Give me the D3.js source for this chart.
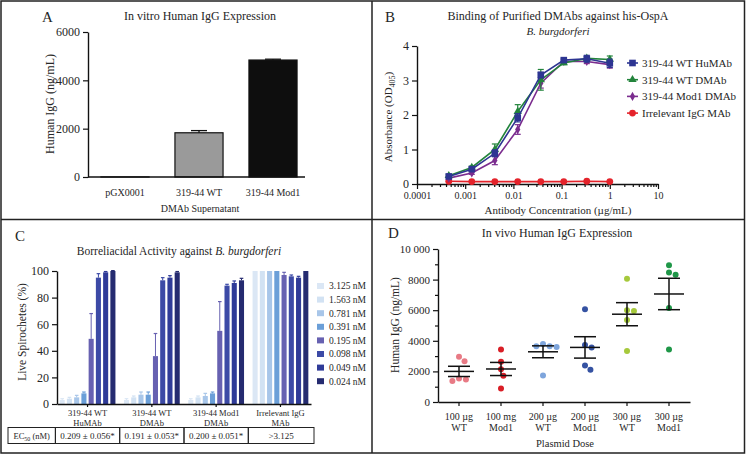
<!DOCTYPE html>
<html>
<head>
<meta charset="utf-8">
<script src="https://cdn.jsdelivr.net/npm/d3@7"></script>
<style>
  body { margin: 0; background: #fff; }
  svg { font-family: "Liberation Serif", "DejaVu Serif", serif; }
</style>
</head>
<body>
<div id="fig"></div>
<script>
// ---- A: in vitro expression
const aCats = ["pGX0001", "319-44 WT", "319-44 Mod1"];
const aVals = [4, 1830, 4840];
const aErr = [0, 90, 35];
const aTicks = [0, 2000, 4000, 6000];

// ---- B: binding curves
const bConc = [0.000457, 0.00137, 0.00412, 0.0123, 0.037, 0.111, 0.333, 1];
const bNames = ["319-44 WT HuMAb", "319-44 WT DMAb", "319-44 Mod1 DMAb", "Irrelevant IgG MAb"];
const bHuMAb = [0.22, 0.43, 0.89, 1.92, 3.16, 3.59, 3.63, 3.50];
const bHuMAbErr = [0.04, 0.05, 0.10, 0.12, 0.08, 0.04, 0.10, 0.12];
const bWtDMAb = [0.24, 0.48, 1.00, 2.10, 3.02, 3.51, 3.64, 3.61];
const bWtDMAbErr = [0.03, 0.04, 0.16, 0.20, 0.30, 0.05, 0.05, 0.10];
const bMod1DMAb = [0.17, 0.32, 0.68, 1.58, 2.92, 3.55, 3.55, 3.46];
const bMod1DMAbErr = [0.03, 0.04, 0.12, 0.14, 0.14, 0.05, 0.06, 0.10];
const bIrrelevant = [0.08, 0.07, 0.07, 0.07, 0.07, 0.07, 0.08, 0.07];
const bIrrelevantErr = [0.01, 0.01, 0.01, 0.01, 0.01, 0.01, 0.01, 0.01];
const bTicksX = [0.0001, 0.001, 0.01, 0.1, 1, 10];
const bTicksY = [0, 1, 2, 3, 4];

// ---- C: borreliacidal activity
const cGroups = [["319-44 WT", "HuMAb"], ["319-44 WT", "DMAb"], ["319-44 Mod1", "DMAb"], ["Irrelevant IgG", "MAb"]];
const cDoses = ["3.125 nM", "1.563 nM", "0.781 nM", "0.391 nM", "0.195 nM", "0.098 nM", "0.049 nM", "0.024 nM"];
const cHuMAb = [3, 4, 5, 8, 49, 95, 99, 100];
const cHuMAbErr = [1, 1, 1.5, 1, 19, 3, 0.6, 0.3];
const cWtDMAb = [3, 5, 7, 7, 36, 93, 95, 99];
const cWtDMAbErr = [1, 1, 2, 2, 17, 2, 1.5, 0.6];
const cMod1DMAb = [3, 5, 6, 8, 55, 89, 91, 93];
const cMod1DMAbErr = [1, 1, 2, 1, 22, 1, 1.5, 1.5];
const cIrrelevant = [100, 100, 100, 100, 97, 96, 95, 100];
const cIrrelevantErr = [0, 0, 0, 0, 2, 1, 1, 0];
const cEC50 = ["0.209 ± 0.056*", "0.191 ± 0.053*", "0.200 ± 0.051*", ">3.125"];
const cTicks = [0, 20, 40, 60, 80, 100];

// ---- D: in vivo expression
const dCats = [["100 µg", "WT"], ["100 mg", "Mod1"], ["200 µg", "WT"], ["200 µg", "Mod1"], ["300 µg", "WT"], ["300 µg", "Mod1"]];
const d100WT = [2950, 2670, 1530, 1380, 1470];
const d100Mod1 = [3430, 2630, 2140, 1710, 880];
const d200WT = [3790, 3650, 3650, 3590, 1730];
const d200Mod1 = [6060, 3720, 3570, 2390, 2100];
const d300WT = [8050, 5950, 6000, 5360, 3330];
const d300Mod1 = [8930, 8320, 8470, 6150, 3430];
const dTicks = [0, 2000, 4000, 6000, 8000, 10000];

const INK = "#262626";
const FONT = '"Liberation Serif", "DejaVu Serif", serif';

const svg = d3.select("#fig").append("svg")
    .attr("width", 746)
    .attr("height", 455)
    .attr("font-family", FONT);

svg.append("rect").attr("width", 746).attr("height", 455).attr("fill", "#fff");

function addText(x, y, str, size, anchor) {
  return svg.append("text")
      .attr("x", x).attr("y", y)
      .attr("font-family", FONT)
      .attr("font-size", size)
      .attr("text-anchor", anchor || "middle")
      .attr("fill", INK)
      .text(str);
}

function addVText(x, y, str, size) {
  return svg.append("text")
      .attr("transform", "translate(" + x + "," + y + ") rotate(-90)")
      .attr("font-family", FONT)
      .attr("font-size", size)
      .attr("text-anchor", "middle")
      .attr("fill", INK)
      .text(str);
}

function styleAxis(g, size) {
  g.attr("font-family", FONT).attr("font-size", size);
  g.select(".domain").attr("stroke", "#111").attr("stroke-width", 1.4);
  g.selectAll(".tick line").attr("stroke", "#111").attr("stroke-width", 1.2);
  g.selectAll(".tick text").attr("fill", INK);
}

// frame
svg.append("rect")
    .attr("x", 1).attr("y", 1).attr("width", 743.5).attr("height", 452)
    .attr("fill", "none").attr("stroke", "#222").attr("stroke-width", 1.5);
svg.append("line").attr("x1", 1).attr("x2", 745).attr("y1", 219.5).attr("y2", 219.5)
    .attr("stroke", "#222").attr("stroke-width", 1.5);
svg.append("line").attr("x1", 372).attr("x2", 372).attr("y1", 1).attr("y2", 453)
    .attr("stroke", "#222").attr("stroke-width", 1.5);

// ================= A =================
function panelA() {
  const x = d3.scaleBand().domain(aCats).range([88, 310]).paddingInner(0.35).paddingOuter(0.175);
  const y = d3.scaleLinear().domain([0, 6000]).range([177, 32]);

  addText(42, 22, "A", 15, "start");
  addText(200, 20, "In vitro Human IgG Expression", 12);

  const colors = ["#fff", "#9a9a9a", "#0e0e0e"];
  svg.append("g").selectAll("rect")
      .data(aVals)
      .enter().append("rect")
      .attr("x", (d, i) => x(aCats[i]))
      .attr("width", x.bandwidth())
      .attr("y", d => y(d))
      .attr("height", d => y(0) - y(d))
      .attr("fill", (d, i) => colors[i])
      .attr("stroke", "#111")
      .attr("stroke-width", 1.2);

  const err = svg.append("g").attr("stroke", "#111").attr("stroke-width", 1.3);
  aVals.forEach((d, i) => {
    if (!aErr[i]) return;
    const cx = x(aCats[i]) + x.bandwidth() / 2;
    err.append("line").attr("x1", cx).attr("x2", cx).attr("y1", y(d)).attr("y2", y(d + aErr[i]));
    err.append("line").attr("x1", cx - 8).attr("x2", cx + 8).attr("y1", y(d + aErr[i])).attr("y2", y(d + aErr[i]));
  });

  const ya = svg.append("g").attr("transform", "translate(88,0)")
      .call(d3.axisLeft(y).tickValues(aTicks).tickSize(5).tickSizeOuter(0).tickFormat(d3.format("d")));
  styleAxis(ya, 12);

  const xa = svg.append("g").attr("transform", "translate(0,177)")
      .call(d3.axisBottom(x).tickSize(0).tickPadding(12));
  styleAxis(xa, 10);
  xa.select(".domain").attr("d", "M88,0H305");

  addText(200, 211.5, "DMAb Supernatant", 10);
  addVText(54, 104, "Human IgG (ng/mL)", 12);
}

// ================= B =================
function panelB() {
  const x = d3.scaleLog().domain([0.0001, 10]).range([417, 658]);
  const y = d3.scaleLinear().domain([0, 4]).range([184, 46]);

  addText(385, 22, "B", 15, "start");
  addText(558, 20, "Binding of Purified DMAbs against his-OspA", 12);
  addText(558, 35, "B. burgdorferi", 11).attr("font-style", "italic");

  const minor = [];
  for (let e = -4; e < 1; e++) for (let k = 2; k < 10; k++) minor.push(k * Math.pow(10, e));
  const xm = svg.append("g").attr("transform", "translate(0,184)")
      .call(d3.axisBottom(x).tickValues(minor).tickSize(3).tickFormat(""));
  styleAxis(xm, 10);
  xm.select(".domain").remove();

  const xa = svg.append("g").attr("transform", "translate(0,184)")
      .call(d3.axisBottom(x).tickValues(bTicksX).tickSize(5).tickSizeOuter(0).tickFormat(d => String(d)));
  styleAxis(xa, 10);

  const ya = svg.append("g").attr("transform", "translate(417,0)")
      .call(d3.axisLeft(y).tickValues(bTicksY).tickSize(5).tickSizeOuter(0).tickFormat(d3.format("d")));
  styleAxis(ya, 12);

  addText(558, 213.5, "Antibody Concentration (µg/mL)", 11);
  const yl = addVText(392, 117, "Absorbance (OD", 11);
  yl.append("tspan").attr("dy", 3).attr("font-size", 8).text("405");
  yl.append("tspan").attr("dy", -3).text(")");

  const series = [
    { name: bNames[3], vals: bIrrelevant, err: bIrrelevantErr, color: "#e4232b", sym: d3.symbolCircle, size: 36 },
    { name: bNames[2], vals: bMod1DMAb, err: bMod1DMAbErr, color: "#7b2d8f", sym: d3.symbolDiamond, size: 24 },
    { name: bNames[1], vals: bWtDMAb, err: bWtDMAbErr, color: "#23843c", sym: d3.symbolTriangle, size: 30 },
    { name: bNames[0], vals: bHuMAb, err: bHuMAbErr, color: "#2d3592", sym: d3.symbolSquare, size: 44 }
  ];

  const line = d3.line().x((d, i) => x(bConc[i])).y(d => y(d));

  series.forEach(s => {
    const g = svg.append("g");
    g.append("path").attr("d", line(s.vals)).attr("fill", "none")
        .attr("stroke", s.color).attr("stroke-width", 1.6);
    s.vals.forEach((v, i) => {
      const cx = x(bConc[i]);
      const e = s.err[i];
      g.append("line").attr("x1", cx).attr("x2", cx).attr("y1", y(v - e)).attr("y2", y(v + e))
          .attr("stroke", s.color).attr("stroke-width", 1.2);
      [v - e, v + e].forEach(t => g.append("line")
          .attr("x1", cx - 3).attr("x2", cx + 3).attr("y1", y(t)).attr("y2", y(t))
          .attr("stroke", s.color).attr("stroke-width", 1.2));
      g.append("path").attr("d", d3.symbol(s.sym, s.size)())
          .attr("transform", "translate(" + cx + "," + y(v) + ")")
          .attr("fill", s.color);
    });
  });

  // legend
  const legendOrder = series.slice().reverse();
  legendOrder.forEach((s, i) => {
    const ly = 63 + i * 16.7;
    svg.append("line").attr("x1", 627).attr("x2", 638).attr("y1", ly).attr("y2", ly)
        .attr("stroke", s.color).attr("stroke-width", 1.6);
    svg.append("path").attr("d", d3.symbol(s.sym, s.size)())
        .attr("transform", "translate(632.5," + ly + ")").attr("fill", s.color);
    addText(642, ly + 4, s.name, 11, "start");
  });
}

// ================= C =================
function panelC() {
  const groupVals = [cHuMAb, cWtDMAb, cMod1DMAb, cIrrelevant];
  const groupErr = [cHuMAbErr, cWtDMAbErr, cMod1DMAbErr, cIrrelevantErr];
  const colors = ["#dbe7f5", "#d2e2f3", "#a8c6e9", "#6b9fd8", "#6761b1", "#3c4aa6", "#2f3b98", "#252b70"];

  const xg = d3.scaleBand().domain(d3.range(cGroups.length)).range([57, 311])
      .paddingInner(0.11).paddingOuter(0.03);
  const xb = d3.scaleBand().domain(d3.range(cDoses.length)).range([0, xg.bandwidth()])
      .paddingInner(0.3).paddingOuter(0.1);
  const y = d3.scaleLinear().domain([0, 100]).range([404, 271]);

  addText(15, 241, "C", 15, "start");
  const t = addText(179, 255, "Borreliacidal Activity against ", 11.5);
  t.append("tspan").attr("font-style", "italic").text("B. burgdorferi");

  groupVals.forEach((vals, gi) => {
    const g = svg.append("g").attr("transform", "translate(" + xg(gi) + ",0)");
    vals.forEach((v, i) => {
      const bx = xb(i);
      g.append("rect").attr("x", bx).attr("width", xb.bandwidth())
          .attr("y", y(v)).attr("height", y(0) - y(v)).attr("fill", colors[i]);
      const e = groupErr[gi][i];
      if (e > 0) {
        const cx = bx + xb.bandwidth() / 2;
        g.append("line").attr("x1", cx).attr("x2", cx).attr("y1", y(v)).attr("y2", y(v + e))
            .attr("stroke", colors[i]).attr("stroke-width", 1);
        g.append("line").attr("x1", cx - 1.8).attr("x2", cx + 1.8).attr("y1", y(v + e)).attr("y2", y(v + e))
            .attr("stroke", colors[i]).attr("stroke-width", 1.2);
      }
    });
  });

  const ya = svg.append("g").attr("transform", "translate(57,0)")
      .call(d3.axisLeft(y).tickValues(cTicks).tickSize(5).tickSizeOuter(0));
  styleAxis(ya, 12);

  const xa = svg.append("g").attr("transform", "translate(0,404)")
      .call(d3.axisBottom(xg).tickSize(3).tickSizeOuter(0).tickFormat(""));
  styleAxis(xa, 9);

  cGroups.forEach((lab, gi) => {
    const cx = xg(gi) + xg.bandwidth() / 2;
    addText(cx, 415.5, lab[0], 8.5);
    addText(cx, 425.5, lab[1], 8.5);
  });

  addVText(26, 332, "Live Spirochetes (%)", 11.5);

  // legend
  cDoses.forEach((d, i) => {
    const ly = 286 + i * 13.6;
    svg.append("rect").attr("x", 317).attr("y", ly - 3).attr("width", 7).attr("height", 6).attr("fill", colors[i]);
    addText(329, ly + 3.3, d, 9.5, "start");
  });

  // EC50 table
  const tg = svg.append("g").attr("fill", "none").attr("stroke", "#222").attr("stroke-width", 1);
  const half = (xg.step() - xg.bandwidth()) / 2;
  const cells = [[8, xg(0) - half]].concat(cGroups.map((c, gi) => [xg(gi) - half, xg(gi) + xg.bandwidth() + half]));
  cells[cells.length - 1][1] = 314;
  cells.forEach(c => {
    tg.append("rect").attr("x", c[0]).attr("y", 427.5).attr("width", c[1] - c[0]).attr("height", 16);
  });
  const ec = addText((cells[0][0] + cells[0][1]) / 2, 438.5, "EC", 8.5);
  ec.append("tspan").attr("dy", 2).attr("font-size", 6).text("50");
  ec.append("tspan").attr("dy", -2).text(" (nM)");
  cEC50.forEach((s, gi) => {
    addText((cells[gi + 1][0] + cells[gi + 1][1]) / 2, 438.5, s, 9);
  });
}

// ================= D =================
function panelD() {
  const groups = [d100WT, d100Mod1, d200WT, d200Mod1, d300WT, d300Mod1];
  const colors = ["#e87a85", "#d91e26", "#7ea5dc", "#3552a2", "#a6c93c", "#1f9748"];

  const x = d3.scaleBand().domain(d3.range(dCats.length)).range([438, 690]);
  const y = d3.scaleLinear().domain([0, 10000]).range([402, 249]);

  addText(388, 238, "D", 15, "start");
  addText(557, 237, "In vivo Human IgG Expression", 12);

  const ym = svg.append("g").attr("transform", "translate(438,0)")
      .call(d3.axisLeft(y).tickValues(d3.range(1000, 10000, 2000)).tickSize(3).tickFormat(""));
  styleAxis(ym, 11);
  ym.select(".domain").remove();
  const ya = svg.append("g").attr("transform", "translate(438,0)")
      .call(d3.axisLeft(y).tickValues(dTicks).tickSize(5).tickSizeOuter(0)
        .tickFormat(d => d >= 10000 ? d3.format(",")(d).replace(",", " ") : d));
  styleAxis(ya, 11);

  const xa = svg.append("g").attr("transform", "translate(0,402)")
      .call(d3.axisBottom(x).tickSize(4).tickSizeOuter(0).tickFormat(""));
  styleAxis(xa, 10);

  dCats.forEach((lab, i) => {
    const cx = x(i) + x.bandwidth() / 2;
    addText(cx, 419.5, lab[0], 10);
    addText(cx, 430.5, lab[1], 10);
  });
  addText(565, 447, "Plasmid Dose", 10.5);
  addVText(399, 325, "Human IgG (ng/mL)", 11.5);

  const r = 3;
  const D = 2 * r + 1;
  groups.forEach((vals, gi) => {
    const cx = x(gi) + x.bandwidth() / 2;
    // simple beeswarm so close points sit side by side
    const placed = [];
    vals.map(v => ({ v: v, py: y(v) })).sort((a, b) => a.py - b.py).forEach(p => {
      const cands = [0];
      placed.forEach(q => {
        const dy = Math.abs(q.py - p.py);
        if (dy < D) {
          const dx = Math.sqrt(D * D - dy * dy);
          cands.push(q.dx + dx, q.dx - dx);
        }
      });
      cands.sort((a, b) => Math.abs(a) - Math.abs(b));
      p.dx = cands.find(c => placed.every(q => (q.dx - c) ** 2 + (q.py - p.py) ** 2 >= D * D - 0.01));
      placed.push(p);
    });
    svg.append("g").selectAll("circle")
        .data(placed)
        .enter().append("circle")
        .attr("cx", d => cx + d.dx)
        .attr("cy", d => d.py)
        .attr("r", r)
        .attr("fill", colors[gi]);

    const mean = d3.mean(vals);
    const sem = d3.deviation(vals) / Math.sqrt(vals.length);
    const g = svg.append("g").attr("stroke", "#111").attr("stroke-width", 1.5);
    g.append("line").attr("x1", cx - 15).attr("x2", cx + 15).attr("y1", y(mean)).attr("y2", y(mean));
    g.append("line").attr("x1", cx).attr("x2", cx).attr("y1", y(mean - sem)).attr("y2", y(mean + sem));
    [mean - sem, mean + sem].forEach(t => g.append("line")
        .attr("x1", cx - 11).attr("x2", cx + 11).attr("y1", y(t)).attr("y2", y(t)));
  });
}

panelA();
panelB();
panelC();
panelD();
</script>
</body>
</html>
